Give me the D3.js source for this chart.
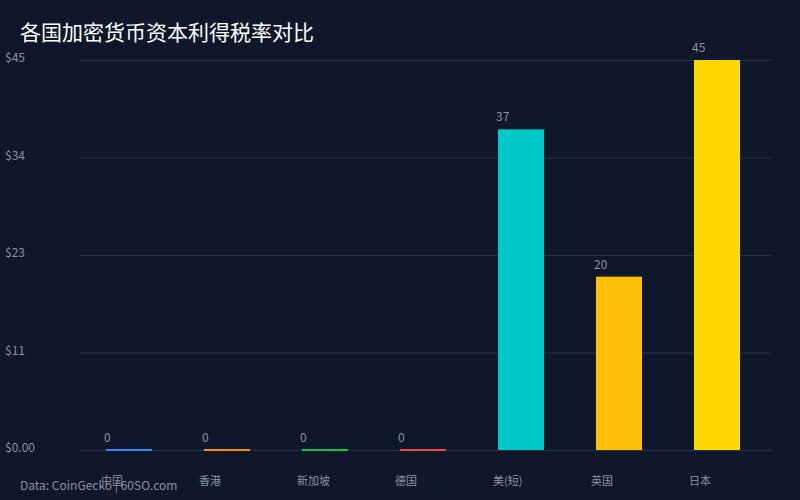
<!DOCTYPE html>
<html><head><meta charset="utf-8">
<script src="https://cdn.jsdelivr.net/npm/d3@7/dist/d3.min.js"></script>
<style>body{margin:0;background:#0f172a;}svg{display:block;}</style>
</head><body>
<svg id="c" width="800" height="500"></svg>
<script>
const categories = ["中国","香港","新加坡","德国","美(短)","英国","日本"];
const values = [0,0,0,0,37,20,45];
const colors = ["#3b82f6","#ff8c00","#00c83c","#ff4444","#00c8c8","#ffc107","#ffd700"];
const yTicks = [0, 11.25, 22.5, 33.75, 45];
const title = "各国加密货币资本利得税率对比";
const source = "Data: CoinGecko | 60SO.com";

(function(){
const W=800,H=500, mLeft=80, mRight=771, mTop=60, mBottom=450;
const svg=d3.select("#c");
svg.append("rect").attr("width",W).attr("height",H).attr("fill","#0f172a");
const font="'Noto Sans CJK SC','Noto Sans',sans-serif";

const x=d3.scaleBand().domain(categories).range([mLeft,766]).paddingInner(0.53).paddingOuter(0.265);
const y=d3.scaleLinear().domain([0,45]).range([mBottom,mTop]);

const yAxis=d3.axisLeft(y).tickValues(yTicks).tickSize(-(mRight-mLeft)).tickPadding(0)
  .tickFormat(d=>d===0?"$0.00":"$"+Math.round(d));
const gy=svg.append("g").attr("transform",`translate(${mLeft},0)`).call(yAxis);
gy.select(".domain").remove();
gy.selectAll(".tick line").attr("stroke","#2a3344").attr("stroke-width",1);
gy.selectAll(".tick text").attr("x",-75).attr("y",-2).attr("text-anchor","start").attr("dy","0.32em")
  .attr("fill","#8a93a3").style("font-family",font).style("font-size","12px");

svg.selectAll(".bar").data(values).join("rect").attr("class","bar")
  .attr("x",(d,i)=>x(categories[i])).attr("width",x.bandwidth())
  .attr("y",d=>Math.min(y(d),mBottom-1)).attr("height",d=>Math.max(mBottom-y(d),2))
  .attr("fill",(d,i)=>colors[i]);

svg.selectAll(".vl").data(values).join("text").attr("class","vl")
  .attr("x",(d,i)=>x(categories[i])-2).attr("y",d=>y(d)-8)
  .attr("fill","#8a93a3").style("font-family",font).style("font-size","12px").text(d=>d);

const xAxis=d3.axisBottom(x).tickSize(0).tickPadding(0);
const gx=svg.append("g").attr("transform",`translate(0,${mBottom})`).call(xAxis);
gx.select(".domain").remove();
gx.selectAll(".tick text").attr("x",-x.bandwidth()/2-5).attr("text-anchor","start")
  .attr("y",35).attr("dy",0).attr("fill","#8a93a3")
  .style("font-family",font).style("font-size","11px");

svg.append("text").attr("x",20).attr("y",40).attr("fill","#ffffff")
  .style("font-family",font).style("font-size","21px").text(title);
svg.append("text").attr("x",20).attr("y",490).attr("fill","#8a93a3")
  .style("font-family",font).style("font-size","12px").text(source);
})();
</script>
</body></html>
